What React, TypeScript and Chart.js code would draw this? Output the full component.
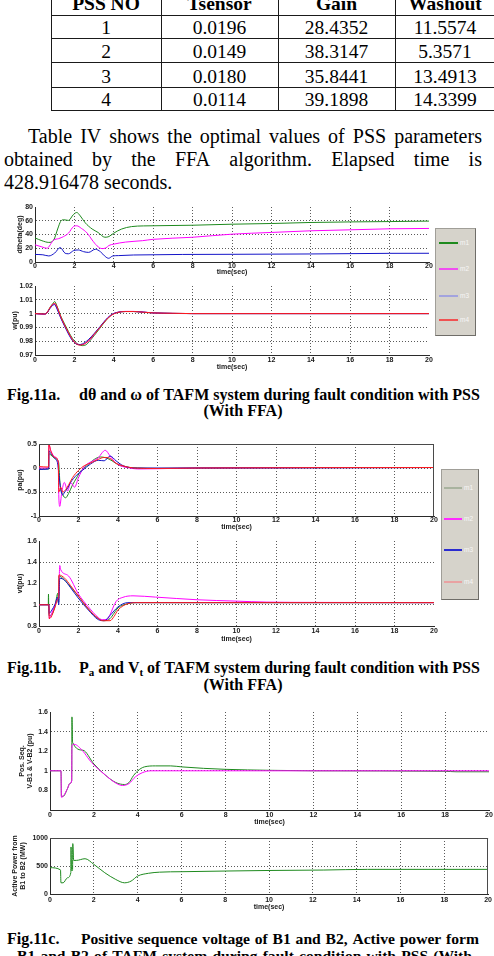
import React, { useEffect, useRef } from "react";
import { Chart, registerables } from "chart.js";

Chart.register(...registerables);

type Pt = [number, number];

// ---------- Table IV ----------
const tableHeader = ["PSS NO", "Tsensor", "Gain", "Washout"];
const pssNo = ["1", "2", "3", "4"];
const tSensor = ["0.0196", "0.0149", "0.0180", "0.0114"];
const gain = ["28.4352", "38.3147", "35.8441", "39.1898"];
const washout = ["11.5574", "5.3571", "13.4913", "14.3399"];

// ---------- common axis ----------
const timeMin = 0;
const timeMax = 20;
const timeStep = 2;

// ---------- Fig.11a: rotor angle difference (deg) ----------
const dThetaM1: Pt[] = [[0,35],[0.35,31],[0.7,28.5],[0.95,32],[1.15,48],[1.3,59],[1.45,61.5],[1.7,60.5],[1.95,69],[2.12,72],[2.3,67],[2.55,57],[2.9,48],[3.2,43],[3.55,36],[3.75,37],[4.0,42],[4.4,48],[4.9,51.5],[5.5,52.5],[6,52.7],[8,53.5],[10,55],[12,56],[14,57.5],[16,58.3],[18,58.8],[20,59.5]];
const dThetaM2: Pt[] = [[0,25],[0.35,22],[0.6,20],[0.95,32],[1.2,34],[1.45,37],[1.7,42],[1.95,51.5],[2.12,52.7],[2.35,49],[2.65,42],[2.9,32],[3.15,23.5],[3.4,19.5],[3.6,20.5],[3.75,24],[4.0,26],[4.6,29],[5.45,31],[6,33],[8,36],[10,40.5],[12,43],[14,45.4],[16,46.8],[18,48.3],[20,48.8]];
const dThetaM3: Pt[] = [[0,11],[0.4,10.5],[0.7,8.8],[1.0,13],[1.28,21],[1.53,12.7],[1.7,12],[1.96,16.6],[2.2,17.5],[2.47,15],[2.72,14],[3.06,18.5],[3.32,15],[3.57,7.8],[3.74,5.4],[3.95,8.8],[4.25,9.3],[5,10.2],[10,11.2],[14,11.7],[18,12.6],[20,12.7]];

// ---------- Fig.11a: rotor speed (pu) ----------
const wM1: Pt[] = [[0,1.0],[0.5,0.9997],[0.6,1.0005],[0.75,1.0042],[0.9,1.0072],[1.0,1.0088],[1.1,1.006],[1.3,0.9985],[1.5,0.9925],[1.7,0.987],[1.9,0.982],[2.1,0.9788],[2.4,0.9768],[2.6,0.9775],[2.8,0.9805],[3.0,0.984],[3.3,0.9895],[3.6,0.995],[3.9,0.9992],[4.2,1.0009],[4.6,1.0015],[5.0,1.0015],[5.5,1.001],[6,1.0005],[7,1.0002],[8,1.0],[20,1.0]];
const wM2: Pt[] = [[0,1.0],[0.5,0.9995],[0.6,1.0003],[0.75,1.0038],[0.9,1.0066],[0.98,1.007],[1.1,1.0045],[1.3,0.9975],[1.5,0.9912],[1.7,0.9858],[1.9,0.981],[2.1,0.9782],[2.3,0.9775],[2.5,0.978],[2.8,0.9812],[3.0,0.9848],[3.3,0.9902],[3.6,0.9955],[3.9,0.9993],[4.2,1.001],[4.6,1.0016],[5.0,1.0016],[5.5,1.0011],[6,1.0005],[7,1.0002],[8,1.0],[20,1.0]];
const wM3: Pt[] = [[0,1.0],[0.5,0.9997],[0.6,1.0004],[0.75,1.0035],[0.9,1.006],[1.0,1.0065],[1.1,1.004],[1.3,0.997],[1.5,0.991],[1.7,0.9852],[1.9,0.9805],[2.2,0.9775],[2.4,0.978],[2.7,0.981],[3.0,0.9855],[3.3,0.9905],[3.6,0.9957],[3.9,0.9994],[4.2,1.0009],[4.6,1.0015],[5.0,1.0015],[6,1.0005],[8,1.0],[20,1.0]];
const wM4: Pt[] = [[0,1.0],[0.5,0.9997],[0.6,1.0005],[0.75,1.004],[0.9,1.0068],[1.0,1.0075],[1.1,1.0055],[1.3,0.998],[1.5,0.9918],[1.7,0.9862],[1.9,0.9812],[2.1,0.978],[2.3,0.9772],[2.5,0.978],[2.8,0.9815],[3.0,0.985],[3.3,0.99],[3.6,0.9952],[3.9,0.999],[4.2,1.0008],[4.6,1.0015],[5.0,1.0015],[5.5,1.001],[6,1.0005],[7,1.0002],[8,1.0],[20,1.0]];

// ---------- Fig.11b: accelerating power (pu) ----------
const paM1: Pt[] = [[0,-0.02],[0.49,-0.02],[0.5,0.3],[0.6,0.27],[0.8,0.2],[0.95,0.16],[1.0,0.1],[1.06,-0.3],[1.2,-0.55],[1.35,-0.62],[1.5,-0.53],[1.7,-0.35],[1.9,-0.21],[2.1,-0.07],[2.4,0.04],[2.8,0.18],[3.1,0.23],[3.4,0.21],[3.7,0.15],[4.0,0.07],[4.5,0.015],[5,0],[6,-0.01],[8,0],[20,0.01]];
const paM2: Pt[] = [[0,0],[0.49,0],[0.5,0.48],[0.6,0.36],[0.8,0.23],[0.97,0.12],[1.0,-0.55],[1.05,-0.8],[1.15,-0.52],[1.28,-0.3],[1.45,-0.48],[1.6,-0.3],[1.8,-0.4],[2.0,-0.2],[2.3,0.03],[2.7,0.14],[3.0,0.21],[3.2,0.32],[3.35,0.37],[3.6,0.25],[3.9,0.1],[4.2,0.035],[4.6,0],[5,-0.02],[6,-0.015],[8,0],[20,0.01]];
const paM3: Pt[] = [[0,-0.03],[0.49,-0.02],[0.5,0.36],[0.6,0.3],[0.8,0.2],[0.95,0.08],[1.0,-0.1],[1.1,-0.45],[1.2,-0.56],[1.3,-0.5],[1.45,-0.42],[1.6,-0.3],[1.9,-0.15],[2.2,-0.05],[2.6,0.08],[3.0,0.16],[3.3,0.15],[3.6,0.25],[3.9,0.15],[4.2,0.06],[4.6,0.01],[5,0],[8,0],[20,0.01]];
const paM4: Pt[] = [[0,0.03],[0.49,0.02],[0.5,0.5],[0.6,0.35],[0.8,0.22],[0.98,0.12],[1.0,-0.5],[1.1,-0.4],[1.2,-0.5],[1.35,-0.45],[1.5,-0.35],[1.7,-0.2],[2.0,-0.05],[2.3,0.05],[2.6,0.1],[3.0,0.18],[3.3,0.22],[3.6,0.2],[3.9,0.1],[4.3,0.04],[4.8,0],[6,-0.01],[8,0],[20,0.01]];

// ---------- Fig.11b: terminal voltage (pu) ----------
const vtM1: Pt[] = [[0,1.0],[0.47,1.0],[0.48,1.1],[0.5,0.9],[0.6,0.9],[0.8,0.98],[0.96,1.11],[0.97,1.02],[1.0,1.03],[1.01,1.27],[1.2,1.25],[1.5,1.19],[2.0,1.08],[2.5,0.96],[3.0,0.87],[3.3,0.85],[3.6,0.87],[3.8,0.92],[4.0,0.97],[4.5,1.01],[5,1.02],[8,1.02],[20,1.02]];
const vtM2: Pt[] = [[0,1.0],[0.5,1.0],[0.52,0.87],[0.6,0.9],[0.8,0.99],[0.95,1.06],[1.0,1.1],[1.05,1.37],[1.1,1.33],[1.5,1.27],[2.0,1.1],[2.5,0.98],[3.0,0.88],[3.2,0.86],[3.45,0.86],[3.58,0.9],[3.9,1.03],[4.25,1.07],[4.76,1.084],[5.9,1.072],[8,1.047],[10,1.034],[11.5,1.025],[14,1.022],[20,1.02]];
const vtM3: Pt[] = [[0,1.0],[0.5,1.0],[0.52,0.92],[0.65,0.95],[0.8,1.0],[0.95,1.07],[1.0,1.0],[1.05,1.25],[1.3,1.23],[1.6,1.16],[2.0,1.06],[2.5,0.95],[3.0,0.86],[3.3,0.85],[3.6,0.9],[4.0,0.98],[4.5,1.02],[5,1.02],[20,1.02]];
const vtM4: Pt[] = [[0,1.0],[0.5,1.0],[0.52,0.87],[0.6,0.88],[0.8,0.97],[0.95,1.05],[1.0,1.07],[1.01,1.28],[1.3,1.25],[1.6,1.18],[2.0,1.08],[2.5,0.96],[3.0,0.87],[3.2,0.85],[3.6,0.85],[3.8,0.89],[4.0,0.95],[4.5,1.01],[5,1.02],[20,1.02]];

// ---------- Fig.11c: positive sequence voltage of B1 and B2 (pu) ----------
const vB1: Pt[] = [[0,1.0],[0.5,1.0],[0.52,0.74],[0.6,0.74],[0.8,0.82],[0.9,0.87],[0.99,0.9],[1.0,1.55],[1.03,1.29],[1.5,1.21],[2.0,1.07],[2.5,0.96],[3.0,0.88],[3.4,0.86],[3.6,0.88],[3.8,0.95],[4.0,1.0],[4.3,1.04],[4.8,1.05],[5.5,1.05],[6,1.04],[7,1.025],[8,1.015],[10,1.005],[12,1.0],[18,0.995],[18.5,0.99],[20,0.99]];
const vB2: Pt[] = [[0,1.0],[0.5,1.0],[0.52,0.73],[0.6,0.74],[0.8,0.82],[0.9,0.87],[0.99,0.9],[1.0,1.26],[1.1,1.27],[1.5,1.2],[1.8,1.11],[2.0,1.06],[2.5,0.96],[3.0,0.875],[3.3,0.85],[3.6,0.87],[3.9,0.94],[4.2,0.98],[4.6,1.0],[5,1.0],[20,1.0]];

// ---------- Fig.11c: active power from B1 to B2 (MW) ----------
const pB1B2: Pt[] = [[0,470],[0.48,430],[0.5,200],[0.6,200],[0.8,290],[0.95,380],[0.96,840],[0.98,420],[1.03,420],[1.04,900],[1.08,600],[1.2,600],[1.6,630],[2.0,530],[2.5,380],[3.0,260],[3.4,200],[3.7,230],[4.0,320],[4.5,370],[5,390],[6,398],[8,410],[10,420],[12.5,428],[14.5,440],[20,440]];

const legendLabels = ["m1", "m2", "m3", "m4"];

const GREEN = "#1e8a1e";
const MAGENTA = "#ff00ff";
const BLUE = "#1414c8";
const RED = "#ff1a1a";

const SANS = "'Liberation Sans', Arial, sans-serif";
const SERIF = "'Liberation Serif', 'Times New Roman', serif";
const AXIS = "#2a2a2a";
const GRID = "#5a5a5a";
const TXT = "#1a1a1a";

const framePlugin = {
  id: "frame",
  afterDraw(chart: any, _args: any, opts: any) {
    if (!opts || (!opts.top && !opts.right)) return;
    const { ctx, chartArea } = chart;
    const { left, top, right, bottom } = chartArea;
    ctx.save();
    ctx.strokeStyle = "#4a4a4a";
    ctx.lineWidth = 1;
    ctx.beginPath();
    if (opts.top) {
      ctx.moveTo(left, Math.round(top) + 0.5);
      ctx.lineTo(right, Math.round(top) + 0.5);
    }
    if (opts.right) {
      ctx.moveTo(Math.round(right) - 0.5, top);
      ctx.lineTo(Math.round(right) - 0.5, bottom);
    }
    ctx.stroke();
    ctx.restore();
  },
};

interface Series { data: Pt[]; color: string; width?: number }
interface PlotProps {
  box: { left: number; top: number; width: number; height: number };
  area: { l: number; t: number; r: number; b: number };
  series: Series[];
  yMin: number;
  yMax: number;
  yStep: number;
  yGrid: (v: number) => boolean;
  yHide?: (v: number) => boolean;
  yTitle: string | string[];
  yTitleX: number;
  xTitleY: number;
  xTickPad: number;
  frame?: { top?: boolean; right?: boolean };
}

const near = (a: number, b: number) => Math.abs(a - b) < 1e-6;

function Plot(p: PlotProps) {
  const ref = useRef<HTMLCanvasElement>(null);
  useEffect(() => {
    const { box, area } = p;
    const yw = area.l - box.left;
    const xh = box.top + box.height - area.b;
    const padTop = area.t - box.top;
    const padRight = box.left + box.width - area.r;
    const tickFont = { size: 7, weight: "bold" as const, family: SANS, lineHeight: 1.15 };
    const lh = 7 * 1.15;
    const chart = new Chart(ref.current as HTMLCanvasElement, {
      type: "line",
      data: {
        datasets: [...p.series].reverse().map((s) => ({
          data: s.data.map(([x, y]) => ({ x, y })),
          borderColor: s.color,
          borderWidth: s.width ?? 1,
          pointRadius: 0,
          fill: false,
          cubicInterpolationMode: "monotone" as const,
        })),
      },
      options: {
        animation: false,
        responsive: false,
        devicePixelRatio: 1,
        events: [],
        layout: { padding: { left: 0, top: padTop, right: padRight, bottom: 0 } },
        plugins: {
          legend: { display: false },
          tooltip: { enabled: false },
          frame: p.frame ?? {},
        } as any,
        scales: {
          x: {
            type: "linear",
            min: timeMin,
            max: timeMax,
            afterFit: (s: any) => { s.height = xh; },
            ticks: {
              stepSize: timeStep,
              autoSkip: false,
              maxRotation: 0,
              padding: p.xTickPad,
              font: tickFont,
              color: TXT,
              callback: (v: any) => String(v),
            },
            grid: {
              drawTicks: false,
              lineWidth: 1,
              color: (c: any) =>
                c.tick && c.tick.value > timeMin + 1e-6 && c.tick.value < timeMax - 1e-6 ? GRID : "rgba(0,0,0,0)",
            },
            border: { display: true, color: AXIS, width: 1, dash: [1, 2] },
            title: {
              display: true,
              text: "time(sec)",
              font: tickFont,
              color: TXT,
              padding: { top: 0, bottom: Math.max(0, box.top + box.height - p.xTitleY - lh / 2) },
            },
          },
          y: {
            type: "linear",
            min: p.yMin,
            max: p.yMax,
            afterFit: (s: any) => { s.width = yw; },
            ticks: {
              stepSize: p.yStep,
              autoSkip: false,
              padding: 2,
              font: tickFont,
              color: TXT,
              callback: (v: any) => (p.yHide && p.yHide(Number(v)) ? "" : String(Number(Number(v).toFixed(3)))),
            },
            grid: {
              drawTicks: false,
              lineWidth: 1,
              color: (c: any) => (c.tick && p.yGrid(c.tick.value) ? GRID : "rgba(0,0,0,0)"),
            },
            border: { display: true, color: AXIS, width: 1, dash: [1, 2] },
            title: {
              display: true,
              text: p.yTitle,
              font: tickFont,
              color: TXT,
              padding: { top: Math.max(0, p.yTitleX - box.left - lh / 2), bottom: 0 },
            },
          },
        },
      } as any,
      plugins: [framePlugin],
    });
    return () => chart.destroy();
  }, []);
  const { box } = p;
  return (
    <canvas
      ref={ref}
      width={box.width}
      height={box.height}
      style={{ position: "absolute", left: box.left, top: box.top, width: box.width, height: box.height }}
    />
  );
}

// text placed by its baseline (Liberation Serif, line-height = font size)
function TextLine(props: {
  x: number; baseline: number; size: number; bold?: boolean; width?: number; center?: boolean; children: React.ReactNode;
}) {
  const { x, baseline, size, bold, width, center } = props;
  const style: React.CSSProperties = {
    position: "absolute",
    left: x,
    top: baseline - 0.8375 * size,
    fontFamily: SERIF,
    fontSize: size,
    lineHeight: `${size}px`,
    fontWeight: bold ? 700 : 400,
    color: "#000",
    whiteSpace: "nowrap",
  };
  if (width !== undefined) style.width = width;
  if (center) style.textAlign = "center";
  return <div style={style}>{props.children}</div>;
}

// one fully justified line: words spread from x to x + width
function JustLine(props: { x: number; width: number; baseline: number; size: number; bold?: boolean; words: React.ReactNode[] }) {
  const { x, width, baseline, size, bold, words } = props;
  return (
    <div
      style={{
        position: "absolute",
        left: x,
        top: baseline - 0.8375 * size,
        width,
        display: "flex",
        justifyContent: "space-between",
        alignItems: "baseline",
        fontFamily: SERIF,
        fontSize: size,
        lineHeight: `${size}px`,
        fontWeight: bold ? 700 : 400,
        color: "#000",
        whiteSpace: "nowrap",
      }}
    >
      {words.map((w, i) => (
        <span key={i}>{w}</span>
      ))}
    </div>
  );
}

const split = (s: string) => s.split(" ");
const Sub = ({ children }: { children: React.ReactNode }) => (
  <span style={{ fontSize: 11, position: "relative", top: 3 }}>{children}</span>
);

interface LegendItem { label: string; color: string; y: number; w: number }
function LegendBox(props: { left: number; top: number; width: number; height: number; x1: number; x2: number; items: LegendItem[] }) {
  const { left, top, width, height, x1, x2, items } = props;
  return (
    <div
      style={{
        position: "absolute",
        left,
        top,
        width,
        height,
        boxSizing: "border-box",
        background: "#d6d3cb",
        border: "1px solid #a09e98",
        borderRightColor: "#6f6d68",
        borderBottomColor: "#6f6d68",
      }}
    >
      {items.map((it) => (
        <React.Fragment key={it.label}>
          <div
            style={{
              position: "absolute",
              left: x1 - left - 1,
              top: it.y - top - 1 - it.w / 2,
              width: x2 - x1,
              height: it.w,
              background: it.color,
            }}
          />
          <div
            style={{
              position: "absolute",
              left: x2 - left + 1,
              top: it.y - top - 5,
              fontFamily: SANS,
              fontSize: 6.5,
              lineHeight: "8px",
              color: "#f6f6f6",
            }}
          >
            {it.label}
          </div>
        </React.Fragment>
      ))}
    </div>
  );
}

function HLine({ x1, x2, y }: { x1: number; x2: number; y: number }) {
  return <div style={{ position: "absolute", left: x1, top: y - 0.5, width: x2 - x1, height: 1.2, background: "#1a1a1a" }} />;
}
function VLine({ x, y1, y2 }: { x: number; y1: number; y2: number }) {
  return <div style={{ position: "absolute", left: x - 0.5, top: y1, width: 1.2, height: y2 - y1, background: "#1a1a1a" }} />;
}

const colEdges = [51, 161, 278, 395, 495];
const rowLines = [-9, 15, 38.5, 62.7, 87, 110.7];
const rowBaselines = [34.3, 58.7, 83.0, 106.6];

export default function App() {
  const columns = [pssNo, tSensor, gain, washout];
  return (
    <div
      style={{
        position: "absolute",
        left: 0,
        top: 0,
        width: 494,
        height: 956,
        overflow: "hidden",
        background: "#fff",
      }}
    >
      {/* Table IV */}
      {rowLines.map((y, i) => (
        <HLine key={"h" + i} x1={colEdges[0]} x2={colEdges[4]} y={y} />
      ))}
      {colEdges.map((x, i) => (
        <VLine key={"v" + i} x={x} y1={-9} y2={111} />
      ))}
      {tableHeader.map((h, c) => (
        <TextLine key={"th" + c} x={colEdges[c]} width={colEdges[c + 1] - colEdges[c]} center bold baseline={10} size={19.5}>
          {h}
        </TextLine>
      ))}
      {columns.map((col, c) =>
        col.map((v, r) => (
          <TextLine key={"td" + c + r} x={colEdges[c]} width={colEdges[c + 1] - colEdges[c]} center baseline={rowBaselines[r]} size={19.5}>
            {v}
          </TextLine>
        ))
      )}

      {/* paragraph */}
      <JustLine x={28} width={454} baseline={142.7} size={20} words={split("Table IV shows the optimal values of PSS parameters")} />
      <JustLine x={4} width={478} baseline={165.6} size={20} words={split("obtained by the FFA algorithm. Elapsed time is")} />
      <TextLine x={4} baseline={188.4} size={20}>
        428.916478 seconds.
      </TextLine>

      {/* Fig.11a */}
      <Plot
        box={{ left: 0, top: 200, width: 436, height: 77 }}
        area={{ l: 35, t: 207, r: 429, b: 262 }}
        series={[
          { data: dThetaM1, color: GREEN },
          { data: dThetaM2, color: MAGENTA },
          { data: dThetaM3, color: BLUE },
        ]}
        yMin={0}
        yMax={80}
        yStep={20}
        yGrid={(v) => v > 1 && v < 79}
        yTitle="dtheta(deg)"
        yTitleX={20}
        xTitleY={272}
        xTickPad={0}
      />
      <Plot
        box={{ left: 0, top: 279, width: 436, height: 93 }}
        area={{ l: 35, t: 286, r: 429, b: 355 }}
        series={[
          { data: wM1, color: GREEN },
          { data: wM2, color: MAGENTA },
          { data: wM3, color: BLUE },
          { data: wM4, color: RED },
        ]}
        yMin={0.97}
        yMax={1.02}
        yStep={0.01}
        yGrid={(v) => v > 0.9705 && v < 1.0195}
        yTitle="w(pu)"
        yTitleX={15}
        xTitleY={367.3}
        xTickPad={1.5}
      />
      <LegendBox
        left={435}
        top={228}
        width={41}
        height={108}
        x1={439}
        x2={458}
        items={[
          { label: legendLabels[0], color: GREEN, y: 243, w: 1.3 },
          { label: legendLabels[1], color: "#f04ef0", y: 269, w: 1.3 },
          { label: legendLabels[2], color: "#a3a3de", y: 296, w: 1.3 },
          { label: legendLabels[3], color: "#f05252", y: 320, w: 1.3 },
        ]}
      />
      <TextLine x={7} baseline={400} size={16} bold>Fig.11a.</TextLine>
      <JustLine x={79} width={401} baseline={400} size={16} bold words={split("dθ and ω of TAFM system during fault condition with PSS")} />
      <TextLine x={143} width={200} center baseline={416.5} size={16} bold>(With FFA)</TextLine>

      {/* Fig.11b */}
      <Plot
        box={{ left: 0, top: 437, width: 439, height: 95 }}
        area={{ l: 39, t: 444, r: 434, b: 516 }}
        series={[
          { data: paM1, color: GREEN },
          { data: paM2, color: MAGENTA },
          { data: paM3, color: BLUE },
          { data: paM4, color: RED },
        ]}
        yMin={-1}
        yMax={0.5}
        yStep={0.5}
        yGrid={(v) => v > -0.99 && v < 0.49}
        yTitle="pa(pu)"
        yTitleX={20}
        xTitleY={527}
        xTickPad={0}
        frame={{ top: true, right: true }}
      />
      <Plot
        box={{ left: 0, top: 534, width: 439, height: 111 }}
        area={{ l: 39, t: 541, r: 434, b: 626 }}
        series={[
          { data: vtM1, color: GREEN },
          { data: vtM2, color: MAGENTA },
          { data: vtM3, color: BLUE },
          { data: vtM4, color: RED },
        ]}
        yMin={0.8}
        yMax={1.6}
        yStep={0.2}
        yGrid={(v) => near(v, 1) || near(v, 1.4)}
        yTitle="vt(pu)"
        yTitleX={20.5}
        xTitleY={639.5}
        xTickPad={1}
      />
      <LegendBox
        left={441}
        top={469}
        width={38}
        height={131}
        x1={444}
        x2={462}
        items={[
          { label: legendLabels[0], color: "#a9b39f", y: 488, w: 1.3 },
          { label: legendLabels[1], color: "#ff2cff", y: 519, w: 2 },
          { label: legendLabels[2], color: "#2b2bd0", y: 550, w: 2 },
          { label: legendLabels[3], color: "#e9a2a2", y: 582, w: 1.3 },
        ]}
      />
      <TextLine x={7} baseline={673.3} size={16} bold>Fig.11b.</TextLine>
      <JustLine
        x={79}
        width={401}
        baseline={673.3}
        size={16}
        bold
        words={[
          <>P<Sub>a</Sub></>,
          "and",
          <>V<Sub>t</Sub></>,
          ...split("of TAFM system during fault condition with PSS"),
        ]}
      />
      <TextLine x={143} width={200} center baseline={690.5} size={16} bold>(With FFA)</TextLine>

      {/* Fig.11c */}
      <Plot
        box={{ left: 0, top: 705, width: 494, height: 123 }}
        area={{ l: 50, t: 712, r: 489, b: 810 }}
        series={[
          { data: vB1, color: GREEN },
          { data: vB2, color: MAGENTA },
        ]}
        yMin={0.6}
        yMax={1.6}
        yStep={0.2}
        yGrid={(v) => near(v, 1) || near(v, 1.4)}
        yHide={(v) => near(v, 0.6)}
        yTitle={["Pos. Seq.", "V-B1 & V-B2 (pu)"]}
        yTitleX={22}
        xTitleY={822}
        xTickPad={1}
      />
      <Plot
        box={{ left: 0, top: 830, width: 494, height: 83 }}
        area={{ l: 50, t: 838, r: 489, b: 894 }}
        series={[{ data: pB1B2, color: GREEN }]}
        yMin={0}
        yMax={1000}
        yStep={500}
        yGrid={(v) => near(v, 500)}
        yTitle={["Active Power from", "B1 to B2 (MW)"]}
        yTitleX={15}
        xTitleY={907.3}
        xTickPad={2}
        frame={{ top: true, right: true }}
      />
      <TextLine x={7} baseline={944.3} size={16} bold>Fig.11c.</TextLine>
      <JustLine x={81} width={398} baseline={944.3} size={15.6} bold words={split("Positive sequence voltage of B1 and B2, Active power form")} />
      <JustLine x={17} width={455} baseline={961} size={15.6} bold words={split("B1 and B2 of TAFM system during fault condition with PSS (With")} />
    </div>
  );
}
